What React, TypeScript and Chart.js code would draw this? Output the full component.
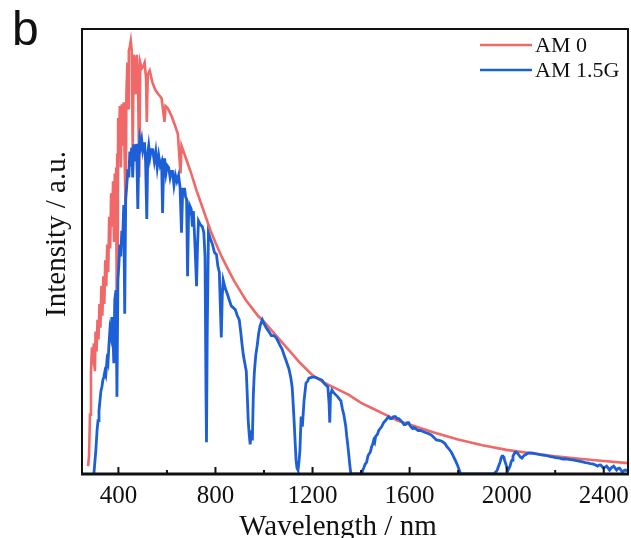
import React, { useEffect, useRef } from 'react';
import { Chart, registerables } from 'chart.js';

Chart.register(...registerables);

// ---- data (wavelength in nm, intensity in arbitrary units ~ W m^-2 nm^-1) ----
const am0Wavelength = [
  275, 279, 283, 287, 291, 295, 299, 303, 306, 310, 314, 318, 322, 326, 330, 334, 338, 342, 346, 350,
  354, 358, 362, 366, 370, 374, 378, 382, 385, 389, 391, 393, 395, 397, 399, 402, 406, 410, 414, 418,
  422, 426, 430, 433, 437, 440, 443, 447, 451, 455, 459, 463, 468, 472, 476, 480, 486, 490, 496, 502,
  508, 514, 517, 521, 529, 540, 553, 565, 578, 590, 594, 603, 619, 631, 645, 656, 660, 680, 700, 720,
  740, 760, 780, 800, 825, 850, 875, 900, 925, 950, 975, 1000, 1050, 1100, 1150, 1200, 1250, 1300, 1350, 1400,
  1450, 1500, 1550, 1600, 1650, 1700, 1800, 1900, 2000, 2100, 2200, 2300, 2400, 2500,
];
const am0Intensity = [
  0.04, 0.09, 0.30, 0.52, 0.64, 0.60, 0.66, 0.52, 0.72, 0.62, 0.78, 0.68, 0.86, 0.74, 0.95, 0.80, 1.00, 0.86, 1.08, 0.95,
  1.16, 1.02, 1.30, 1.14, 1.42, 1.25, 1.48, 1.18, 1.52, 1.35, 1.55, 0.80, 1.62, 0.95, 1.80, 1.65, 1.86, 1.55, 1.87, 1.66,
  1.88, 1.58, 1.30, 1.92, 2.08, 1.85, 2.14, 2.16, 2.19, 2.14, 1.62, 2.12, 2.08, 1.92, 2.12, 2.05, 1.50, 2.08, 2.05, 2.06,
  2.08, 2.00, 1.78, 2.02, 2.04, 1.98, 1.94, 1.92, 1.90, 1.78, 1.86, 1.85, 1.81, 1.77, 1.72, 1.52, 1.66, 1.59, 1.52, 1.44,
  1.37, 1.30, 1.23, 1.17, 1.10, 1.04, 0.98, 0.93, 0.88, 0.84, 0.80, 0.77, 0.70, 0.63, 0.56, 0.50, 0.46, 0.43, 0.40, 0.36,
  0.33, 0.30, 0.27, 0.25, 0.23, 0.21, 0.175, 0.145, 0.122, 0.105, 0.09, 0.077, 0.066, 0.055,
];

const am15Wavelength = [
  299, 307, 312, 316, 320, 324, 328, 332, 336, 340, 344, 348, 353, 357, 361, 365, 369, 373, 377, 381,
  385, 390, 394, 398, 402, 406, 410, 414, 418, 422, 426, 430, 434, 439, 443, 447, 451, 455, 459, 463,
  467, 471, 475, 480, 484, 488, 492, 496, 500, 504, 508, 512, 517, 521, 525, 530, 535, 541, 548, 554,
  560, 566, 572, 578, 582, 587, 591, 596, 601, 607, 613, 618, 623, 629, 635, 641, 648, 654, 660, 665,
  673, 677, 681, 685, 689, 693, 700, 705, 709, 714, 718, 722, 726, 730, 738, 746, 752, 757, 761, 763,
  766, 771, 779, 788, 796, 804, 810, 816, 820, 824, 828, 832, 840, 849, 857, 865, 874, 882, 890, 898,
  904, 909, 915, 921, 927, 931, 935, 939, 943, 948, 952, 956, 960, 966, 972, 978, 984, 993, 1000, 1009,
  1020, 1030, 1040, 1050, 1058, 1066, 1075, 1083, 1092, 1103, 1110, 1116, 1120, 1124, 1128, 1132, 1136, 1140, 1144, 1148,
  1153, 1158, 1165, 1173, 1180, 1185, 1198, 1208, 1218, 1228, 1239, 1247, 1255, 1263, 1268, 1271, 1274, 1280, 1288, 1296,
  1304, 1310, 1317, 1323, 1329, 1333, 1337, 1341, 1345, 1350, 1354, 1358, 1403, 1407, 1411, 1417, 1423, 1428, 1432, 1438,
  1444, 1448, 1452, 1456, 1460, 1467, 1473, 1479, 1485, 1493, 1501, 1507, 1514, 1520, 1526, 1534, 1542, 1548, 1555, 1563,
  1571, 1577, 1583, 1590, 1596, 1604, 1612, 1618, 1624, 1635, 1645, 1655, 1665, 1677, 1690, 1700, 1710, 1720, 1731, 1740,
  1747, 1753, 1760, 1766, 1772, 1778, 1784, 1790, 1797, 1803, 1809, 1813, 1948, 1955, 1961, 1967, 1973, 1977, 1981, 1985,
  1989, 1994, 1998, 2002, 2006, 2010, 2014, 2018, 2022, 2026, 2030, 2035, 2039, 2045, 2051, 2057, 2063, 2069, 2075, 2081,
  2088, 2098, 2108, 2118, 2129, 2139, 2149, 2160, 2170, 2180, 2190, 2200, 2211, 2221, 2231, 2241, 2252, 2262, 2272, 2283,
  2293, 2303, 2313, 2324, 2334, 2344, 2354, 2364, 2375, 2381, 2387, 2393, 2399, 2405, 2412, 2418, 2424, 2430, 2435, 2441,
  2447, 2453, 2459, 2465, 2471, 2477, 2484, 2490, 2500,
];
const am15Intensity = [
  0, 0.12, 0.22, 0.27, 0.32, 0.37, 0.42, 0.44, 0.475, 0.49, 0.516, 0.50, 0.576, 0.56, 0.652, 0.728, 0.70, 0.794, 0.728, 0.56,
  0.88, 0.93, 0.39, 0.98, 1.06, 1.16, 1.10, 1.23, 1.20, 1.36, 0.81, 1.39, 1.45, 1.54, 1.50, 1.63, 1.60, 1.65, 1.50, 1.66,
  1.66, 1.58, 1.67, 1.34, 1.60, 1.69, 1.66, 1.69, 1.64, 1.67, 1.67, 1.58, 1.29, 1.62, 1.66, 1.60, 1.64, 1.64, 1.58, 1.63,
  1.55, 1.61, 1.56, 1.58, 1.32, 1.59, 1.59, 1.52, 1.56, 1.55, 1.50, 1.53, 1.53, 1.46, 1.51, 1.48, 1.51, 1.45, 1.22, 1.44,
  1.44, 1.40, 1.39, 1.00, 1.30, 1.36, 1.34, 1.25, 1.33, 1.20, 1.08, 0.95, 1.15, 1.28, 1.26, 1.25, 1.22, 1.10, 0.40, 0.16,
  0.70, 1.22, 1.19, 1.16, 1.12, 1.11, 1.05, 1.02, 0.85, 0.69, 0.90, 0.98, 0.94, 0.91, 0.88, 0.85, 0.84, 0.83, 0.80, 0.78,
  0.72, 0.66, 0.60, 0.56, 0.52, 0.40, 0.27, 0.20, 0.15, 0.22, 0.17, 0.40, 0.51, 0.60, 0.65, 0.71, 0.75, 0.78, 0.76, 0.74,
  0.72, 0.70, 0.70, 0.69, 0.67, 0.65, 0.63, 0.60, 0.57, 0.53, 0.49, 0.44, 0.36, 0.27, 0.17, 0.07, 0.03, 0.02, 0.06, 0.12,
  0.29, 0.24, 0.37, 0.46, 0.47, 0.485, 0.49, 0.49, 0.485, 0.48, 0.475, 0.46, 0.45, 0.44, 0.36, 0.26, 0.40, 0.425, 0.41, 0.40,
  0.39, 0.38, 0.37, 0.33, 0.30, 0.27, 0.24, 0.19, 0.15, 0.09, 0.04, 0, 0, 0.02, 0.03, 0.05, 0.06, 0.09, 0.10, 0.11,
  0.14, 0.15, 0.17, 0.16, 0.19, 0.20, 0.22, 0.23, 0.24, 0.26, 0.27, 0.28, 0.29, 0.28, 0.28, 0.29, 0.29, 0.28, 0.28, 0.27,
  0.26, 0.25, 0.25, 0.26, 0.26, 0.24, 0.23, 0.235, 0.23, 0.22, 0.22, 0.215, 0.21, 0.205, 0.197, 0.185, 0.172, 0.17, 0.167, 0.16,
  0.152, 0.14, 0.13, 0.12, 0.11, 0.095, 0.08, 0.065, 0.046, 0.025, 0.005, 0, 0, 0.01, 0.02, 0.04, 0.06, 0.08, 0.09, 0.09,
  0.08, 0.06, 0.045, 0.03, 0.02, 0.03, 0.04, 0.06, 0.07, 0.09, 0.10, 0.11, 0.11, 0.105, 0.095, 0.085, 0.08, 0.09, 0.096, 0.10,
  0.106, 0.107, 0.106, 0.103, 0.101, 0.098, 0.096, 0.094, 0.091, 0.088, 0.086, 0.083, 0.081, 0.079, 0.076, 0.077, 0.075, 0.073, 0.071, 0.069,
  0.066, 0.064, 0.061, 0.058, 0.056, 0.053, 0.051, 0.047, 0.04, 0.045, 0.046, 0.038, 0.03, 0.035, 0.04, 0.03, 0.02, 0.03, 0.035, 0.04,
  0.03, 0.02, 0.028, 0.03, 0.02, 0.01, 0.018, 0.02, 0.015,
];

const seriesLabels = ['AM 0', 'AM 1.5G'];
const majorTicks = [400, 800, 1200, 1600, 2000, 2400];
const minorTicks = [600, 1000, 1400, 1800, 2200];
const xRange = [250, 2500];
const yRange = [0, 2.25];
const xTitle = 'Wavelength / nm';
const yTitle = 'Intensity / a.u.';
const panelLabel = 'b';

// ---- styles ----
const RED = '#f06868';
const BLUE = '#1d5fd6';
const SERIF = '"Liberation Serif", "Times New Roman", serif';

const toPoints = (xs: number[], ys: number[]) => xs.map((x, i) => ({ x, y: ys[i] }));

const decorPlugin = {
  id: 'decor',
  afterDatasetsDraw(chart: any) {
    const { ctx, chartArea } = chart;
    const { left, top, right, bottom } = chartArea;
    const xs = chart.scales.x;
    ctx.save();
    // frame
    ctx.strokeStyle = '#111';
    ctx.lineWidth = 2;
    ctx.strokeRect(left, top, right - left, bottom - top);
    ctx.lineWidth = 3;
    ctx.beginPath();
    ctx.moveTo(left - 1, bottom);
    ctx.lineTo(right + 1, bottom);
    ctx.stroke();
    // inward ticks
    ctx.lineWidth = 2;
    majorTicks.forEach((v) => {
      const px = xs.getPixelForValue(v);
      ctx.beginPath();
      ctx.moveTo(px, bottom);
      ctx.lineTo(px, bottom - 7);
      ctx.stroke();
    });
    minorTicks.forEach((v) => {
      const px = xs.getPixelForValue(v);
      ctx.beginPath();
      ctx.moveTo(px, bottom);
      ctx.lineTo(px, bottom - 4);
      ctx.stroke();
    });
    // legend
    const colors = [RED, BLUE];
    ctx.font = `22px ${SERIF}`;
    ctx.textBaseline = 'middle';
    ctx.textAlign = 'left';
    seriesLabels.forEach((label, i) => {
      const y = top + 16 + i * 25;
      ctx.strokeStyle = colors[i];
      ctx.lineWidth = 2.5;
      ctx.beginPath();
      ctx.moveTo(right - 148, y);
      ctx.lineTo(right - 96, y);
      ctx.stroke();
      ctx.fillStyle = '#111';
      ctx.fillText(label, right - 93, y + 1);
    });
    // axis titles
    ctx.fillStyle = '#111';
    ctx.font = `29px ${SERIF}`;
    ctx.textAlign = 'center';
    ctx.textBaseline = 'alphabetic';
    ctx.fillText(xTitle, 338, 535);
    ctx.save();
    ctx.translate(65, 234);
    ctx.rotate(-Math.PI / 2);
    ctx.fillText(yTitle, 0, 0);
    ctx.restore();
    // panel label
    ctx.font = '48px "Liberation Sans", Arial, sans-serif';
    ctx.textAlign = 'left';
    ctx.fillText(panelLabel, 12, 45);
    ctx.restore();
  },
};

export default function App() {
  const canvasRef = useRef<HTMLCanvasElement | null>(null);

  useEffect(() => {
    document.body.style.margin = '0';
    const canvas = canvasRef.current;
    if (!canvas) return;
    const chart = new Chart(canvas, {
      type: 'line',
      data: {
        datasets: [
          {
            label: seriesLabels[0],
            data: toPoints(am0Wavelength, am0Intensity),
            borderColor: RED,
            backgroundColor: RED,
            borderWidth: 2.6,
            pointRadius: 0,
            tension: 0,
            order: 2,
          },
          {
            label: seriesLabels[1],
            data: toPoints(am15Wavelength, am15Intensity),
            borderColor: BLUE,
            backgroundColor: BLUE,
            borderWidth: 2.8,
            pointRadius: 0,
            tension: 0,
            order: 1,
          },
        ],
      },
      options: {
        responsive: false,
        animation: false,
        devicePixelRatio: 1,
        layout: { padding: { top: 29, right: 3, left: 0, bottom: 0 } },
        plugins: {
          legend: { display: false },
          tooltip: { enabled: false },
          title: { display: false },
        },
        scales: {
          x: {
            type: 'linear',
            min: xRange[0],
            max: xRange[1],
            grid: { display: false, drawTicks: false },
            border: { display: false },
            afterBuildTicks: (scale: any) => {
              scale.ticks = majorTicks.map((value) => ({ value }));
            },
            afterFit: (scale: any) => {
              scale.height = 64;
              scale.paddingLeft = 0;
              scale.paddingRight = 0;
            },
            ticks: {
              autoSkip: false,
              maxRotation: 0,
              padding: 10,
              color: '#111',
              font: { family: SERIF, size: 25, lineHeight: 1 },
              callback: (v: any) => String(v),
            },
          },
          y: {
            type: 'linear',
            min: yRange[0],
            max: yRange[1],
            grid: { display: false, drawTicks: false },
            border: { display: false },
            ticks: { display: false },
            afterFit: (scale: any) => {
              scale.width = 82;
              scale.paddingTop = 0;
              scale.paddingBottom = 0;
            },
          },
        },
      },
      plugins: [decorPlugin],
    });
    return () => chart.destroy();
  }, []);

  return (
    <div style={{ width: 631, height: 538, background: '#fff' }}>
      <canvas ref={canvasRef} width={631} height={538} />
    </div>
  );
}
